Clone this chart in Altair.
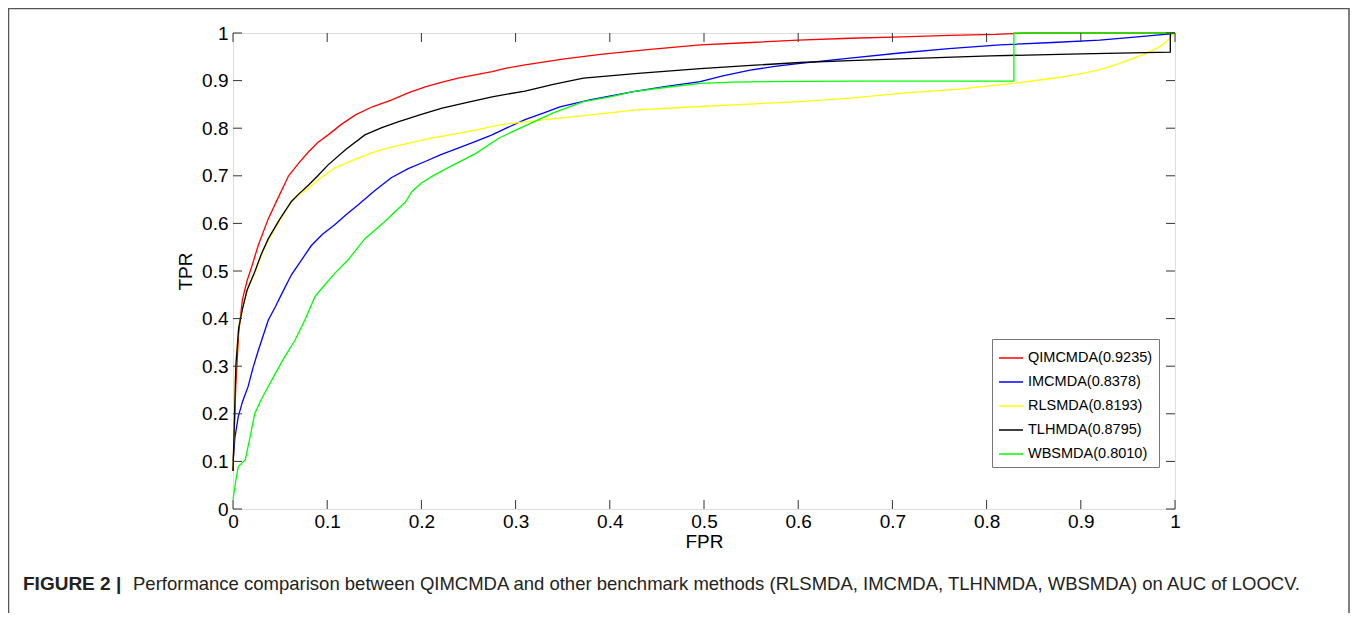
import altair as alt
import pandas as pd

# ---- data ----
series_names = ["QIMCMDA(0.9235)", "IMCMDA(0.8378)", "RLSMDA(0.8193)", "TLHMDA(0.8795)", "WBSMDA(0.8010)"]
series_colors = ["#ff0000", "#0000ff", "#ffff00", "#000000", "#00ff00"]

q_fpr = [0, 0.001, 0.003, 0.006, 0.01, 0.015, 0.02, 0.027, 0.0375, 0.047, 0.059, 0.07, 0.08, 0.09, 0.101,
         0.115, 0.13, 0.148, 0.168, 0.186, 0.204, 0.22, 0.239, 0.257, 0.275, 0.29, 0.31, 0.35, 0.39, 0.44,
         0.496, 0.55, 0.60, 0.655, 0.71, 0.76, 0.81, 0.843, 1.0]
q_tpr = [0.08, 0.14, 0.26, 0.37, 0.44, 0.48, 0.51, 0.555, 0.61, 0.65, 0.70, 0.727, 0.75, 0.77, 0.786,
         0.808, 0.828, 0.845, 0.859, 0.874, 0.887, 0.896, 0.905, 0.912, 0.919, 0.926, 0.933, 0.945, 0.955, 0.965,
         0.975, 0.980, 0.985, 0.989, 0.992, 0.995, 0.997, 1.0, 1.0]

i_fpr = [0, 0.002, 0.0056, 0.01, 0.016, 0.021, 0.027, 0.0375, 0.045, 0.052, 0.062, 0.073, 0.083, 0.095, 0.108,
         0.12, 0.133, 0.15, 0.168, 0.186, 0.204, 0.22, 0.239, 0.257, 0.275, 0.29, 0.31, 0.33, 0.347, 0.38,
         0.425, 0.46, 0.496, 0.52, 0.549, 0.575, 0.602, 0.655, 0.708, 0.76, 0.814, 0.87, 0.92, 0.96, 0.995, 1.0]
i_tpr = [0.10, 0.15, 0.194, 0.225, 0.257, 0.295, 0.334, 0.397, 0.425, 0.453, 0.492, 0.524, 0.553, 0.577, 0.597,
         0.618, 0.639, 0.668, 0.696, 0.715, 0.73, 0.744, 0.758, 0.772, 0.786, 0.800, 0.818, 0.832, 0.845, 0.86,
         0.877, 0.888, 0.898, 0.91, 0.922, 0.930, 0.936, 0.947, 0.958, 0.967, 0.975, 0.98, 0.985, 0.992, 0.998, 1.0]

r_fpr = [0, 0.001, 0.003, 0.006, 0.01, 0.015, 0.023, 0.03, 0.0375, 0.05, 0.062, 0.07, 0.08, 0.094, 0.108,
         0.13, 0.151, 0.168, 0.186, 0.21, 0.239, 0.26, 0.283, 0.326, 0.37, 0.425, 0.48, 0.531, 0.602, 0.655,
         0.708, 0.77, 0.828, 0.878, 0.902, 0.92, 0.94, 0.955, 0.967, 0.977, 0.985, 0.991, 1.0]
r_tpr = [0.09, 0.16, 0.31, 0.385, 0.42, 0.46, 0.495, 0.533, 0.565, 0.608, 0.645, 0.66, 0.674, 0.697, 0.716,
         0.735, 0.751, 0.760, 0.768, 0.779, 0.789, 0.797, 0.807, 0.817, 0.826, 0.838, 0.844, 0.849, 0.856, 0.863,
         0.873, 0.882, 0.894, 0.907, 0.915, 0.923, 0.935, 0.946, 0.955, 0.964, 0.973, 0.982, 1.0]

t_fpr = [0, 0.001, 0.003, 0.006, 0.01, 0.015, 0.023, 0.03, 0.0375, 0.05, 0.062, 0.07, 0.08, 0.09, 0.101,
         0.12, 0.14, 0.158, 0.176, 0.2, 0.222, 0.25, 0.275, 0.31, 0.34, 0.372, 0.43, 0.496, 0.55, 0.602,
         0.655, 0.70, 0.804, 0.90, 0.995, 0.995, 1.0]
t_tpr = [0.08, 0.15, 0.30, 0.38, 0.42, 0.46, 0.498, 0.535, 0.568, 0.61, 0.646, 0.662, 0.68, 0.70, 0.723,
         0.756, 0.786, 0.801, 0.814, 0.829, 0.842, 0.855, 0.866, 0.878, 0.892, 0.905, 0.915, 0.925, 0.932, 0.938,
         0.942, 0.945, 0.952, 0.956, 0.96, 1.0, 1.0]

w_fpr = [0, 0.003, 0.0056, 0.013, 0.018, 0.023, 0.03, 0.045, 0.055, 0.066, 0.077, 0.087, 0.097, 0.108, 0.122,
         0.14, 0.16, 0.183, 0.19, 0.2, 0.214, 0.235, 0.257, 0.283, 0.31, 0.34, 0.372, 0.40, 0.425, 0.46,
         0.496, 0.53, 0.566, 0.655, 0.828, 0.829, 0.829, 1.0]
w_tpr = [0.02, 0.06, 0.089, 0.103, 0.15, 0.2, 0.23, 0.285, 0.32, 0.355, 0.40, 0.446, 0.47, 0.495, 0.523,
         0.568, 0.602, 0.645, 0.667, 0.685, 0.702, 0.724, 0.746, 0.78, 0.805, 0.832, 0.856, 0.866, 0.877, 0.886,
         0.894, 0.897, 0.898, 0.899, 0.899, 0.90, 1.0, 1.0]

tick_values = [0, 0.1, 0.2, 0.3, 0.4, 0.5, 0.6, 0.7, 0.8, 0.9, 1]

caption_bold = "FIGURE 2 |"
caption_rest = ("Performance comparison between QIMCMDA and other benchmark methods "
                "(RLSMDA, IMCMDA, TLHNMDA, WBSMDA) on AUC of LOOCV.")

# ---- build table ----
rows = []
for name, fx, ty in zip(series_names, [q_fpr, i_fpr, r_fpr, t_fpr, w_fpr], [q_tpr, i_tpr, r_tpr, t_tpr, w_tpr]):
    for k, (a, b) in enumerate(zip(fx, ty)):
        rows.append({"method": name, "fpr": a, "tpr": b, "i": k})
df = pd.DataFrame(rows)
ticks_df = pd.DataFrame({"v": tick_values})

W, H = 942, 476
FONT = "Liberation Sans"

xscale = alt.Scale(domain=[0, 1], nice=False, zero=False)
yscale = alt.Scale(domain=[0, 1], nice=False, zero=False)

label_expr = "datum.value == 0 ? '0' : datum.value == 1 ? '1' : format(datum.value, '.1f')"

lines = alt.Chart(df).mark_line(strokeWidth=1.3, clip=False).encode(
    x=alt.X("fpr:Q", scale=xscale, title="FPR",
            axis=alt.Axis(values=tick_values, labelExpr=label_expr, ticks=False, domain=False, grid=False,
                          labelFont=FONT, labelFontSize=19, labelColor="#000", labelPadding=3,
                          titleFont=FONT, titleFontSize=19, titleFontWeight="normal", titleColor="#000",
                          titlePadding=1, labelFlush=False)),
    y=alt.Y("tpr:Q", scale=yscale, title="TPR",
            axis=alt.Axis(values=tick_values, labelExpr=label_expr, ticks=False, domain=False, grid=False,
                          labelFont=FONT, labelFontSize=19, labelColor="#000", labelPadding=5,
                          titleFont=FONT, titleFontSize=19, titleFontWeight="normal", titleColor="#000",
                          titlePadding=6, labelFlush=False)),
    color=alt.Color("method:N",
                    scale=alt.Scale(domain=series_names, range=series_colors),
                    legend=alt.Legend(title=None, orient="none", legendX=759, legendY=306,
                                      symbolType="stroke", symbolSize=576, symbolStrokeWidth=1.5,
                                      labelFont=FONT, labelFontSize=14.5, labelColor="#000",
                                      labelOffset=4, padding=6, rowPadding=4,
                                      strokeColor="#777", fillColor="#ffffff", labelLimit=300)),
    order=alt.Order("i:Q"),
)

tick_color = "#333333"
tb = alt.Chart(ticks_df).mark_rule(color=tick_color, strokeWidth=1).encode(
    x=alt.X("v:Q", scale=xscale), y=alt.value(H), y2=alt.value(H - 9))
tt = alt.Chart(ticks_df).mark_rule(color=tick_color, strokeWidth=1).encode(
    x=alt.X("v:Q", scale=xscale), y=alt.value(0), y2=alt.value(9))
tl = alt.Chart(ticks_df).mark_rule(color=tick_color, strokeWidth=1).encode(
    y=alt.Y("v:Q", scale=yscale), x=alt.value(0), x2=alt.value(9))
tr = alt.Chart(ticks_df).mark_rule(color=tick_color, strokeWidth=1).encode(
    y=alt.Y("v:Q", scale=yscale), x=alt.value(W), x2=alt.value(W - 9))

frame = alt.Chart(ticks_df.head(1)).mark_rect(fill=None, stroke="#555555", strokeWidth=1.5).encode(
    x=alt.value(-224.5), x2=alt.value(1116), y=alt.value(-24.5), y2=alt.value(700))

cap1 = alt.Chart(ticks_df.head(1)).mark_text(align="left", baseline="middle", font=FONT,
                                               fontSize=19, fontWeight="bold", color="#222").encode(
    x=alt.value(-210), y=alt.value(550.5), text=alt.value(caption_bold))
cap2 = alt.Chart(ticks_df.head(1)).mark_text(align="left", baseline="middle", font=FONT,
                                               fontSize=18.5, color="#222").encode(
    x=alt.value(-100), y=alt.value(550.5), text=alt.value(caption_rest))

chart = alt.layer(frame, lines, tb, tt, tl, tr, cap1, cap2).properties(
    width=W, height=H,
    padding={"left": 225, "top": 25, "right": 175, "bottom": 104},
    autosize=alt.AutoSizeParams(type="none"),
).configure_view(stroke="#333333", strokeWidth=1).configure(background="white", font=FONT)

chart.save("out.html", embed_options={"renderer": "svg", "actions": False})
